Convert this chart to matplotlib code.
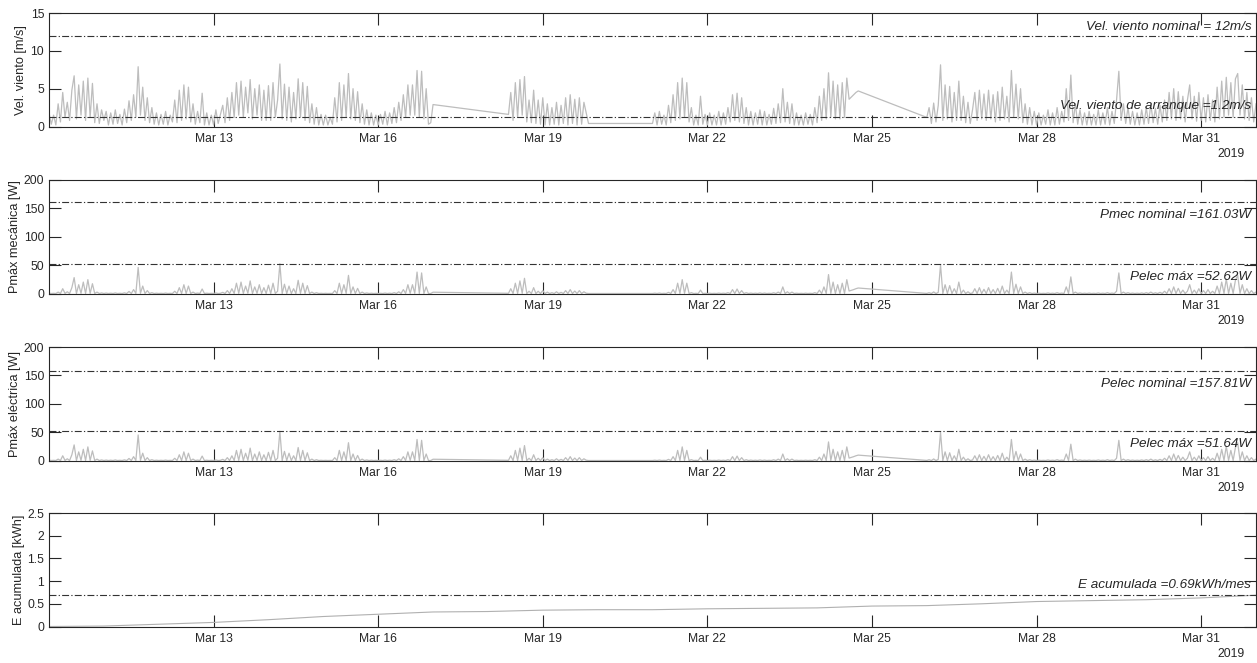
import numpy as np
import pandas as pd
import matplotlib
matplotlib.use("Agg")
import matplotlib.pyplot as plt
import matplotlib.dates as mdates
from matplotlib.ticker import FuncFormatter

plt.rcParams["font.family"] = ["Liberation Sans", "DejaVu Sans"]
plt.rcParams["lines.scale_dashes"] = False

# Hourly wind speed [m/s], one block per stretch of logged data
WIND_A_START = "2019-03-10 00:00"
WIND_A = [
    1.8, 0.3, 1.5, 0.2, 3.0, 0.6, 4.5, 1.2, 3.2, 0.8, 4.8, 6.7, 1.0, 5.5, 1.5, 6.0, 0.8, 6.4, 1.2, 5.7, 0.5, 3.0, 0.4, 2.2,
    0.8, 2.0, 0.2, 1.8, 0.3, 2.2, 0.4, 1.6, 0.2, 2.3, 0.5, 3.4, 0.8, 4.2, 1.2, 7.9, 1.5, 5.2, 0.8, 3.8, 0.5, 2.5, 0.3, 1.8,
    0.2, 1.6, 0.3, 2.0, 0.2, 1.5, 0.6, 3.5, 0.5, 4.8, 0.8, 5.5, 1.0, 5.2, 0.6, 3.0, 0.3, 2.0, 0.5, 4.4, 0.2, 1.8, 0.2, 1.5,
    0.2, 2.2, 0.4, 1.6, 2.8, 0.5, 3.8, 0.8, 4.5, 1.2, 5.8, 1.5, 6.0, 1.2, 5.2, 1.8, 6.2, 1.0, 5.0, 1.5, 5.5, 0.8, 4.8, 0.8,
    5.4, 0.8, 5.8, 1.2, 3.5, 8.26, 1.0, 5.6, 0.8, 5.2, 0.6, 4.5, 1.0, 6.3, 1.2, 5.8, 0.8, 5.3, 0.5, 3.0, 0.3, 2.5, 0.2, 1.6,
    0.2, 1.5, 0.2, 1.2, 0.3, 3.8, 0.6, 5.8, 0.8, 5.5, 1.2, 7.0, 1.0, 5.0, 0.8, 4.6, 0.5, 3.0, 0.3, 2.2, 0.2, 1.8, 0.2, 1.5,
    0.2, 1.6, 0.3, 2.0, 0.2, 1.8, 0.4, 2.5, 0.5, 3.2, 0.8, 4.2, 1.2, 5.5, 1.5, 5.5, 1.5, 7.4, 1.2, 7.3, 1.0, 5.0, 0.3, 0.5,
    2.9,
]
WIND_B_START = "2019-03-18 09:00"
WIND_B = [
    1.6, 4.5, 0.8, 5.8, 1.2, 6.2, 1.5, 6.6, 0.6, 3.5, 0.5, 4.8, 0.4, 3.5, 0.3,
    3.8, 0.2, 3.0, 0.2, 2.5, 0.3, 3.2, 0.2, 2.8, 0.4, 3.8, 0.2, 4.2, 0.4, 3.6, 0.2, 3.8, 0.3, 3.2, 1.8, 0.4,
]
WIND_C_START = "2019-03-21 00:00"
WIND_C = [
    0.4, 1.8, 0.2, 2.0, 0.3, 1.5, 0.2, 2.8, 0.5, 4.2, 0.8, 5.8, 1.0, 6.4, 1.2, 5.8, 0.6, 2.5, 0.2, 1.5, 0.2, 4.0, 0.3, 1.6,
    0.2, 1.8, 0.2, 1.5, 0.2, 2.0, 0.2, 1.8, 0.3, 2.5, 0.6, 4.2, 0.8, 4.4, 0.6, 3.8, 0.4, 2.5, 0.2, 2.0, 0.2, 1.8, 0.3, 2.2,
    0.2, 2.0, 0.2, 1.6, 0.3, 2.4, 0.4, 3.0, 0.5, 5.0, 0.6, 3.2, 0.4, 3.0, 0.2, 1.8, 0.2, 1.5, 0.2, 1.8, 0.3, 1.6, 0.2, 2.5,
    0.5, 4.0, 0.8, 5.0, 1.0, 7.1, 1.2, 6.0, 1.0, 5.5, 1.0, 5.8, 1.2, 6.4, 3.6, 3.9, 4.2, 4.5, 4.7,
]
WIND_D_START = "2019-03-26 00:00"
WIND_D = [
    1.2, 2.5, 0.4, 3.1, 0.6, 2.8, 8.15, 0.8, 5.5, 1.0, 5.3, 0.6, 4.5, 0.8, 6.0, 0.8, 4.0, 0.5, 3.2, 0.4, 2.2, 4.5, 0.8, 4.8,
    1.0, 4.3, 0.8, 4.8, 1.0, 4.2, 0.6, 4.6, 0.8, 5.2, 1.0, 4.0, 0.6, 7.4, 1.2, 5.6, 1.0, 5.0, 0.5, 3.0, 0.3, 2.5, 0.2, 2.0,
    0.2, 1.8, 0.2, 1.5, 0.3, 2.2, 0.2, 1.8, 0.2, 2.5, 0.3, 2.0, 0.6, 5.0, 0.8, 6.8, 0.5, 3.0, 0.3, 2.2, 0.2, 1.8, 0.2, 2.0,
    0.2, 1.6, 0.2, 2.2, 0.2, 1.8, 0.3, 2.5, 0.2, 2.0, 0.4, 3.5, 7.3, 0.8, 3.0, 0.4, 2.5, 0.3, 2.0, 0.2, 1.8, 0.2, 2.2, 0.3,
    2.5, 0.4, 3.0, 0.5, 2.4, 0.3, 2.8, 0.6, 3.5, 0.8, 4.5, 1.0, 5.0, 0.8, 4.6, 1.0, 4.0, 0.6, 3.5, 5.5, 1.0, 4.0, 0.7, 4.5,
    0.8, 3.8, 0.6, 4.2, 0.8, 3.5, 0.6, 5.2, 1.0, 6.0, 1.2, 6.5, 1.5, 5.8, 1.2, 6.3, 7.0, 1.5, 5.5, 1.0, 4.5, 0.8, 3.8, 0.6,
    3.0,
]

# Daily accumulated energy [kWh]
E_START = "2019-03-10"
E_ACUM = [0.00, 0.01, 0.05, 0.09, 0.15, 0.22, 0.27, 0.32, 0.33, 0.36, 0.37, 0.37,
          0.39, 0.40, 0.41, 0.45, 0.46, 0.50, 0.55, 0.57, 0.59, 0.63, 0.69]

V_NOM = 12.0
V_ARR = 1.2
PMEC_NOM = 161.03
PMEC_MAX = 52.62
PELEC_NOM = 157.81
PELEC_MAX = 51.64
E_MES = 0.69

blocks = [(WIND_A_START, WIND_A), (WIND_B_START, WIND_B),
          (WIND_C_START, WIND_C), (WIND_D_START, WIND_D)]
t = pd.DatetimeIndex(np.concatenate(
    [pd.date_range(s, periods=len(v), freq="h").values for s, v in blocks]))
v = np.concatenate([np.array(v, float) for _, v in blocks])

# turbine power curve: cubic between cut-in and nominal speed
p_mec = np.where(v >= V_ARR, PMEC_NOM * (v / V_NOM) ** 3, 0.0)
p_elec = p_mec * PELEC_MAX / PMEC_MAX
t_e = pd.date_range(E_START, periods=len(E_ACUM), freq="D")

DARK = "#262626"
GREY = "#bdbdbd"
DASH = (5, 1.6, 0.9, 1.6)
FS = 8.7

fig = plt.figure(figsize=(12.57, 6.63), dpi=100)
W = 1257.0
H = 663.0
left = 49 / W
width = (1256 - 49) / W
tops = [13, 180, 347, 513]
hgt = 113.5
axes = [fig.add_axes([left, 1 - (top + hgt) / H, width, hgt / H]) for top in tops]

x0 = pd.Timestamp("2019-03-10")
x1 = pd.Timestamp("2019-04-01")


def style(ax, ylim, yticks, ylabel, label_x):
    ax.set_xlim(x0, x1)
    ax.set_ylim(*ylim)
    ax.set_yticks(yticks)
    ax.yaxis.set_major_formatter(FuncFormatter(lambda y, _: f"{y:g}"))
    ax.xaxis.set_major_locator(mdates.DayLocator(bymonthday=[13, 16, 19, 22, 25, 28, 31]))
    ax.xaxis.set_major_formatter(mdates.DateFormatter("%b %d"))
    ax.tick_params(direction="in", length=8.5, width=0.8, colors=DARK,
                   top=True, right=True, labelsize=FS)
    ax.tick_params(axis="x", pad=5)
    ax.tick_params(axis="y", pad=3.5)
    for s in ax.spines.values():
        s.set_color(DARK)
        s.set_linewidth(0.8)
    ax.set_ylabel(ylabel, fontsize=9.2, color=DARK, va="center")
    # label centre, in pixels from the figure's left edge
    ax.yaxis.set_label_coords((label_x - 49) / 1207, 0.5)
    ax.annotate("2019", xy=(1, 0), xycoords="axes fraction", xytext=(-8, -20),
                textcoords="offset points", ha="right", va="center",
                fontsize=FS, color=DARK)


def ref_line(ax, y, text, dy):
    ax.axhline(y, color="#333333", lw=0.8, dashes=DASH)
    ax.annotate(text, xy=(1, y), xycoords=("axes fraction", "data"),
                xytext=(-3.5, dy), textcoords="offset points",
                ha="right", va="center", fontsize=9.7, style="italic", color=DARK)


ax = axes[0]
ax.plot(t, v, color=GREY, lw=0.9)
style(ax, (0, 15), [0, 5, 10, 15], "Vel. viento [m/s]", 21)
ref_line(ax, V_NOM, f"Vel. viento nominal = {V_NOM:g}m/s", 6.5)
ref_line(ax, V_ARR, f"Vel. viento de arranque ={V_ARR:g}m/s", 8)

ax = axes[1]
ax.plot(t, p_mec, color=GREY, lw=0.9)
style(ax, (0, 200), [0, 50, 100, 150, 200], "Pmáx mecánica [W]", 15)
ref_line(ax, PMEC_NOM, f"Pmec nominal ={PMEC_NOM:.2f}W", -9.5)
ref_line(ax, PMEC_MAX, f"Pelec máx ={PMEC_MAX:.2f}W", -9.5)

ax = axes[2]
ax.plot(t, p_elec, color=GREY, lw=0.9)
style(ax, (0, 200), [0, 50, 100, 150, 200], "Pmáx eléctrica [W]", 15)
ref_line(ax, PELEC_NOM, f"Pelec nominal ={PELEC_NOM:.2f}W", -9.5)
ref_line(ax, PELEC_MAX, f"Pelec máx ={PELEC_MAX:.2f}W", -9.5)

ax = axes[3]
ax.plot(t_e, E_ACUM, color="#b0b0b0", lw=0.8)
style(ax, (0, 2.5), [0, 0.5, 1, 1.5, 2, 2.5], "E acumulada [kWh]", 19)
ref_line(ax, E_MES, f"E acumulada ={E_MES:g}kWh/mes", 7.5)

fig.savefig("out.png", dpi=100)
